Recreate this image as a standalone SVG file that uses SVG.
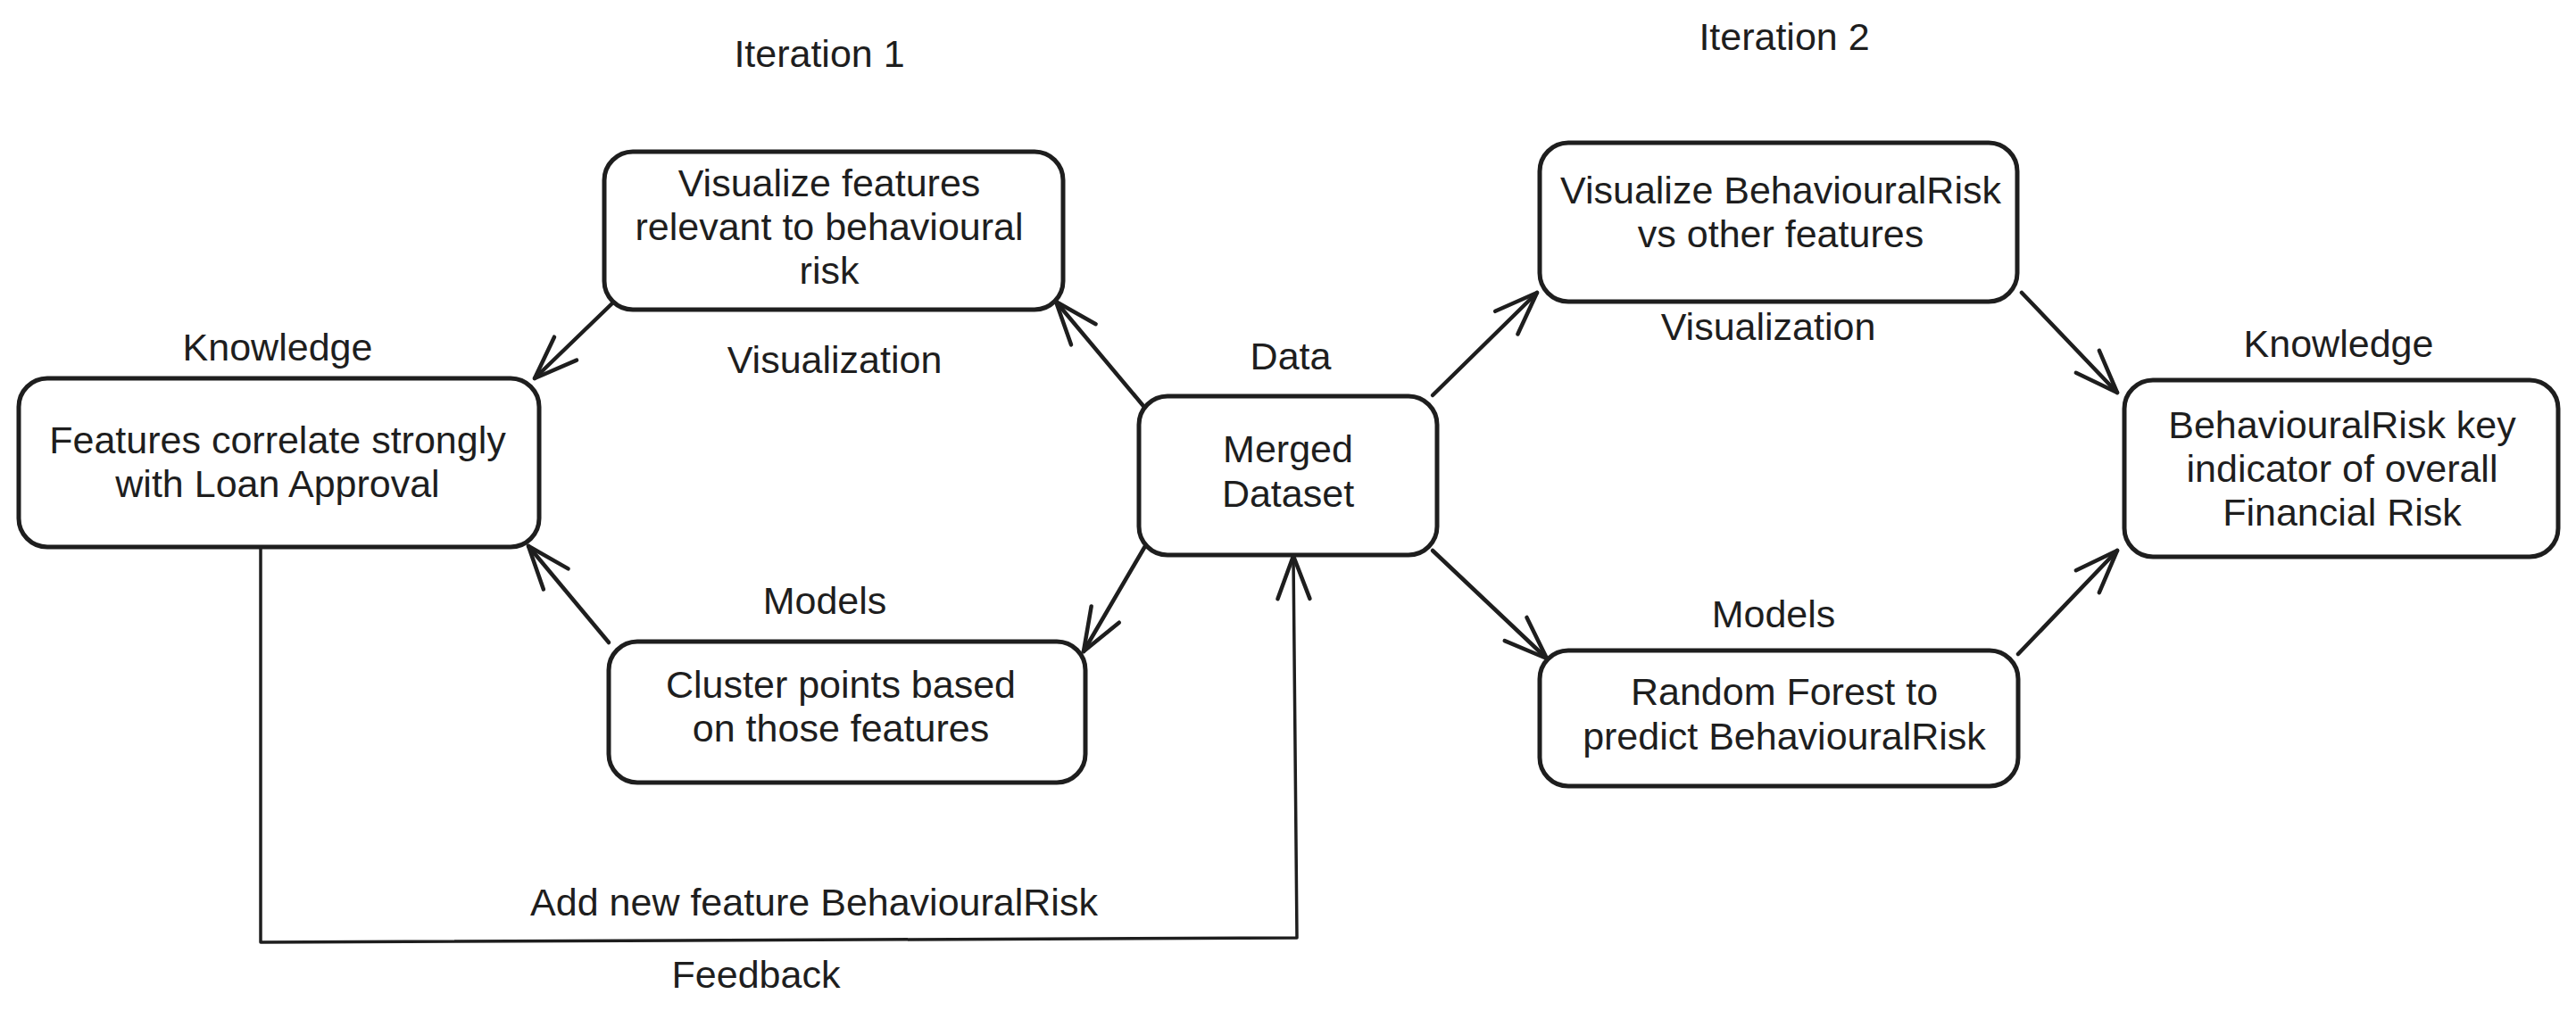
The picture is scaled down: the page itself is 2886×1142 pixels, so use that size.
<svg xmlns="http://www.w3.org/2000/svg" width="2886" height="1142" viewBox="0 0 2886 1142">
  <style>
    .box { fill: #ffffff; stroke: #1e1e1e; stroke-width: 5; }
    .t { font-family: "Liberation Sans", Arial, sans-serif; font-size: 43px; fill: #1e1e1e; text-anchor: middle; }
    .edge { fill: none; stroke: #1e1e1e; stroke-width: 4.5; stroke-linecap: round; stroke-linejoin: round; }
  </style>
  <defs>
    <marker id="ah" markerUnits="userSpaceOnUse" markerWidth="70" markerHeight="70" viewBox="-60 -35 70 70" refX="0" refY="0" orient="auto" overflow="visible">
      <path d="M -48,-18 L 0,0 L -48,18" fill="none" stroke="#1e1e1e" stroke-width="4.5" stroke-linecap="round" stroke-linejoin="round"/>
    </marker>
  </defs>
  <rect width="2886" height="1142" fill="#ffffff"/>

  <g id="labels">
    <text class="t" x="918" y="75">Iteration 1</text>
    <text class="t" x="1999" y="56">Iteration 2</text>
    <text class="t" x="311" y="404">Knowledge</text>
    <text class="t" x="935" y="418">Visualization</text>
    <text class="t" x="1446" y="414">Data</text>
    <text class="t" x="1981" y="381">Visualization</text>
    <text class="t" x="2620" y="400">Knowledge</text>
    <text class="t" x="924" y="688">Models</text>
    <text class="t" x="1987" y="703">Models</text>
    <text class="t" x="912" y="1026">Add new feature BehaviouralRisk</text>
    <text class="t" x="847" y="1107">Feedback</text>
  </g>

  <g id="connectors">
    <path class="edge" d="M 1281,455 L 1183,338" marker-end="url(#ah)"/>
    <path class="edge" d="M 688,338 L 599,424" marker-end="url(#ah)"/>
    <path class="edge" d="M 682,720 L 592,612" marker-end="url(#ah)"/>
    <path class="edge" d="M 1283,612 L 1214,730" marker-end="url(#ah)"/>
    <path class="edge" style="stroke-width:3.5" d="M 292,613 L 292,1056 L 1453,1051 L 1449,623" marker-end="url(#ah)"/>
    <path class="edge" d="M 1605,443 L 1722,328" marker-end="url(#ah)"/>
    <path class="edge" d="M 2265,328 L 2372,440" marker-end="url(#ah)"/>
    <path class="edge" d="M 1605,617 L 1733,738" marker-end="url(#ah)"/>
    <path class="edge" d="M 2261,733 L 2372,617" marker-end="url(#ah)"/>
  </g>

  <g id="n_vis1">
    <rect class="box" x="677" y="170" width="514" height="177" rx="32"/>
    <text class="t" x="929" y="220">Visualize features</text>
    <text class="t" x="929" y="269">relevant to behavioural</text>
    <text class="t" x="929" y="318">risk</text>
  </g>
  <g id="n_know1">
    <rect class="box" x="21" y="424" width="583" height="189" rx="32"/>
    <text class="t" x="311" y="508">Features correlate strongly</text>
    <text class="t" x="311" y="557">with Loan Approval</text>
  </g>
  <g id="n_data">
    <rect class="box" x="1276" y="444" width="334" height="178" rx="32"/>
    <text class="t" x="1443" y="518">Merged</text>
    <text class="t" x="1443" y="568">Dataset</text>
  </g>
  <g id="n_models1">
    <rect class="box" x="682" y="719" width="534" height="158" rx="32"/>
    <text class="t" x="942" y="782">Cluster points based</text>
    <text class="t" x="942" y="831">on those features</text>
  </g>
  <g id="n_vis2">
    <rect class="box" x="1725" y="160" width="535" height="178" rx="32"/>
    <text class="t" x="1995" y="228">Visualize BehaviouralRisk</text>
    <text class="t" x="1995" y="277">vs other features</text>
  </g>
  <g id="n_models2">
    <rect class="box" x="1725" y="729" width="536" height="152" rx="32"/>
    <text class="t" x="1999" y="790">Random Forest to</text>
    <text class="t" x="1999" y="840">predict BehaviouralRisk</text>
  </g>
  <g id="n_know2">
    <rect class="box" x="2380" y="426" width="486" height="198" rx="32"/>
    <text class="t" x="2624" y="491">BehaviouralRisk key</text>
    <text class="t" x="2624" y="540">indicator of overall</text>
    <text class="t" x="2624" y="589">Financial Risk</text>
  </g>
</svg>
